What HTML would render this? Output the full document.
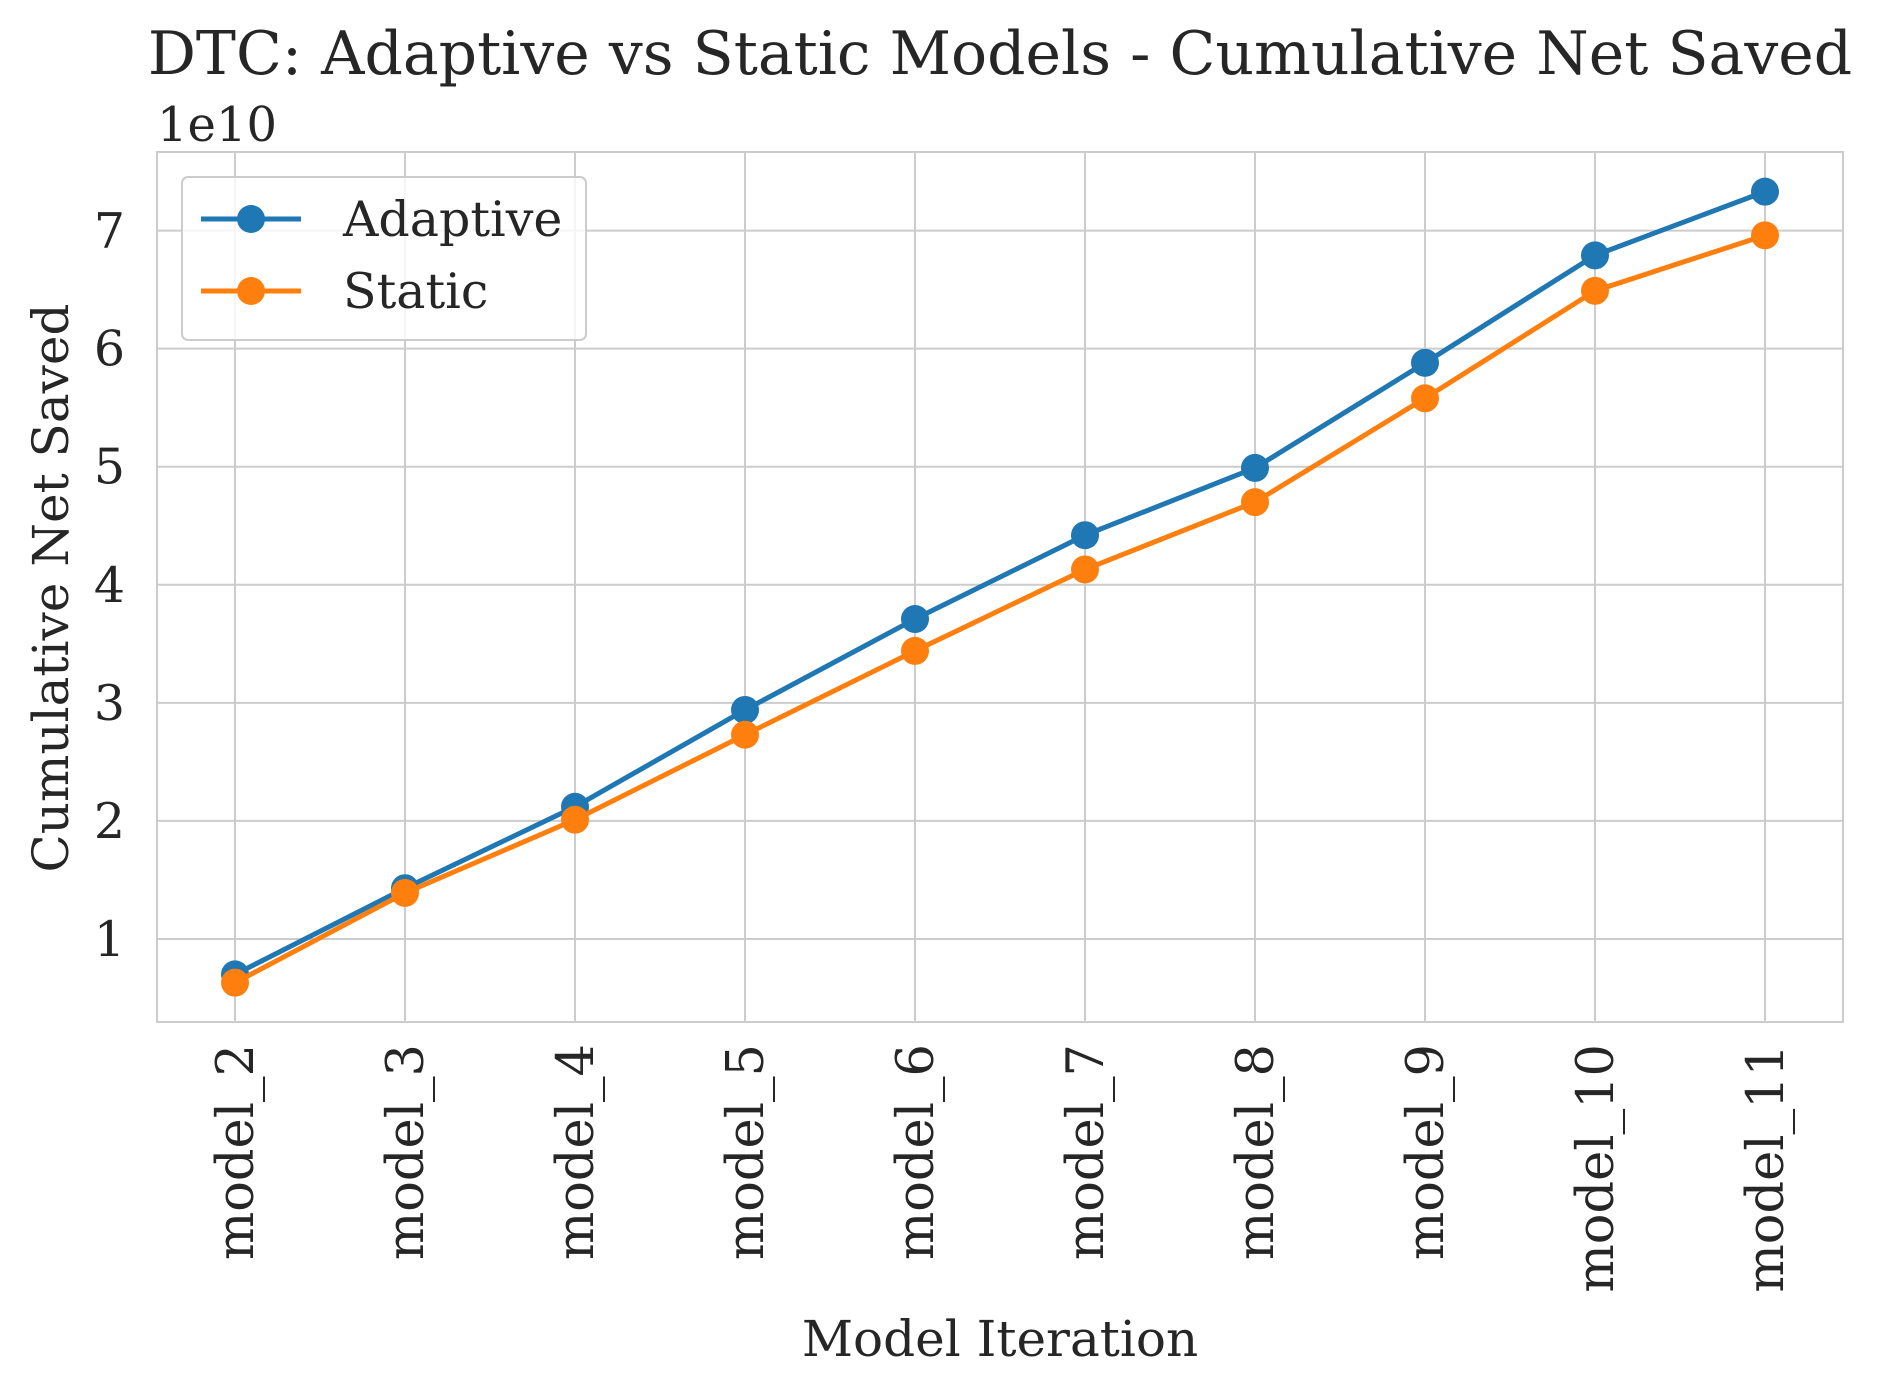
<!DOCTYPE html>
<html><head><meta charset="utf-8"><style>
html,body{margin:0;padding:0;background:#fff;}
svg{display:block;font-family:"DejaVu Serif","Liberation Serif",serif;}
</style></head><body>
<svg id="chart" width="1881" height="1392" viewBox="0 0 1881 1392" xmlns="http://www.w3.org/2000/svg">
<rect width="1881" height="1392" fill="#fff"/>
<g id="grid"></g>
<rect x="157" y="152" width="1686" height="870" fill="none" stroke="#cccccc" stroke-width="2"/>
<g id="series"></g>
<g id="ticks" fill="#262626" font-size="49"></g>
<text x="1000" y="74" text-anchor="middle" font-size="60" fill="#262626">DTC: Adaptive vs Static Models - Cumulative Net Saved</text>
<text x="157" y="141" font-size="48" fill="#262626">1e10</text>
<text transform="translate(68,588) rotate(-90)" text-anchor="middle" font-size="50" fill="#262626">Cumulative Net Saved</text>
<text x="1000" y="1356" text-anchor="middle" font-size="50" fill="#262626">Model Iteration</text>
<g>
<rect x="182" y="177" width="404" height="163" rx="6" fill="#fff" fill-opacity="0.8" stroke="#cccccc" stroke-width="2"/>
<g>
<line x1="201" y1="219" x2="301" y2="219" stroke="#1f77b4" stroke-width="5"/>
<circle cx="251" cy="219" r="14" fill="#1f77b4"/>
<text x="343" y="236" font-size="49" fill="#262626">Adaptive</text>
</g>
<g>
<line x1="201" y1="291" x2="301" y2="291" stroke="#ff7f0e" stroke-width="5"/>
<circle cx="251" cy="291" r="14" fill="#ff7f0e"/>
<text x="343" y="308" font-size="49" fill="#262626">Static</text>
</g>
</g>
</svg>
<script>
const categories = ["model_2","model_3","model_4","model_5","model_6","model_7","model_8","model_9","model_10","model_11"];
const adaptiveValues = [0.70,1.43,2.12,2.94,3.71,4.42,4.99,5.88,6.79,7.33];
const staticValues = [0.63,1.39,2.01,2.73,3.44,4.13,4.70,5.58,6.49,6.96];
const yTicks = [1,2,3,4,5,6,7];

const NS = "http://www.w3.org/2000/svg";
const plotLeft = 157, plotRight = 1843, plotTop = 152, plotBottom = 1022;
function xPos(i){ return 235 + i * (1765 - 235) / (categories.length - 1); }
function yPos(v){ return 939 - (v - 1) * (939 - 230.6) / 6; }

const gridLayer = document.getElementById('grid');
const tickLayer = document.getElementById('ticks');
const seriesLayer = document.getElementById('series');
function mk(tag, attrs, parent){ const e = document.createElementNS(NS, tag); for (const k in attrs) e.setAttribute(k, attrs[k]); parent.appendChild(e); return e; }

yTicks.forEach(t => {
  const y = yPos(t);
  const gl = mk('line', {x1:plotLeft, x2:plotRight, y1:y, y2:y, stroke:'#cccccc', 'stroke-width':2}, gridLayer);
  
  
  const tx = mk('text', {x:125, y:y+17, 'text-anchor':'end'}, tickLayer);
  tx.textContent = String(t);
  
  
});
categories.forEach((c, i) => {
  const x = xPos(i);
  const gl = mk('line', {x1:x, x2:x, y1:plotTop, y2:plotBottom, stroke:'#cccccc', 'stroke-width':2}, gridLayer);
  
  
  const tx = mk('text', {transform:'translate(' + (x + 18) + ',1044) rotate(-90)', 'text-anchor':'end', 'font-size':51}, tickLayer);
  tx.textContent = c;
  
  
});
function drawSeries(vals, color, name){
  const g = mk('g', {}, seriesLayer);
  
  
  const pts = vals.map((v, i) => xPos(i) + ',' + yPos(v)).join(' ');
  const pl = mk('polyline', {points:pts, fill:'none', stroke:color, 'stroke-width':5, 'stroke-linejoin':'round'}, g);
  
  
  vals.forEach((v, i) => {
    const c = mk('circle', {cx:xPos(i), cy:yPos(v), r:14, fill:color}, g);
    
    
  });
}
drawSeries(adaptiveValues, '#1f77b4', 'adaptive');
drawSeries(staticValues, '#ff7f0e', 'static');
</script>
</body></html>
